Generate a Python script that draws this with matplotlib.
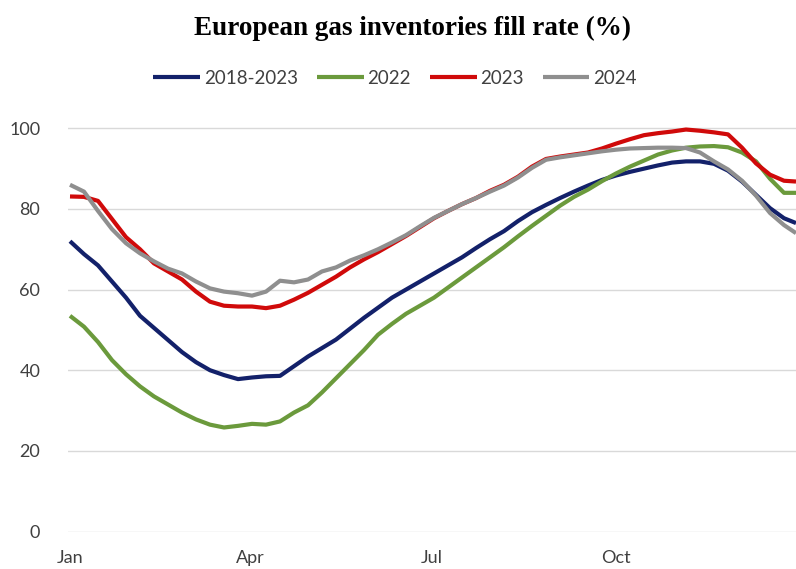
import matplotlib.pyplot as plt
import numpy as np

# Day of year for each weekly reading
days = [0, 7, 14, 21, 28, 35, 42, 49, 56, 63, 70, 77, 84, 91, 98, 105, 112,
        119, 126, 133, 140, 147, 154, 161, 168, 175, 182, 189, 196, 203, 210,
        217, 224, 231, 238, 245, 252, 259, 266, 273, 280, 287, 294, 301, 308,
        315, 322, 329, 336, 343, 350, 357, 363]

avg_2018_2023 = [72, 68.8, 66, 62, 58, 53.5, 50.5, 47.5, 44.5, 42, 40, 38.8, 37.8,
                 38.2, 38.5, 38.6, 41, 43.4, 45.5, 47.6, 50.3, 53, 55.5, 58, 60,
                 62, 64, 66, 68, 70.3, 72.5, 74.5, 77, 79.2, 81, 82.7, 84.3, 85.8,
                 87.2, 88.3, 89.2, 90, 90.8, 91.5, 91.8, 91.8, 91.2, 89.5, 86.8,
                 83.5, 80.2, 77.7, 76.5]

fill_2022 = [53.5, 50.8, 47, 42.5, 39, 36, 33.5, 31.5, 29.5, 27.8, 26.5, 25.8, 26.2,
             26.7, 26.5, 27.3, 29.5, 31.3, 34.5, 38, 41.5, 45, 48.8, 51.5, 54,
             56, 58, 60.5, 63, 65.5, 68, 70.5, 73.2, 75.8, 78.3, 80.8, 83, 84.8,
             86.9, 88.8, 90.5, 92, 93.5, 94.5, 95.2, 95.5, 95.6, 95.3, 94, 91.8,
             87.5, 84, 84]

fill_2023 = [83.1, 83, 82, 77.5, 73, 70, 66.5, 64.5, 62.5, 59.5, 57, 56, 55.8,
             55.8, 55.4, 56, 57.5, 59.2, 61.2, 63.2, 65.5, 67.5, 69.3, 71.3, 73.3,
             75.5, 77.7, 79.5, 81.2, 82.7, 84.5, 86, 88, 90.5, 92.4, 93, 93.5, 94,
             95, 96.2, 97.3, 98.3, 98.8, 99.2, 99.7, 99.4, 99, 98.5, 95.2, 91.3,
             88.5, 87, 86.8]

fill_2024 = [86, 84.3, 79.5, 75, 71.5, 69, 67, 65.2, 64, 62, 60.3, 59.5, 59.1,
             58.5, 59.5, 62.2, 61.8, 62.5, 64.5, 65.5, 67.2, 68.5, 70, 71.7, 73.5,
             75.7, 77.8, 79.5, 81.2, 82.7, 84.3, 85.8, 87.8, 90.2, 92.2, 92.8,
             93.3, 93.8, 94.3, 94.7, 95, 95.1, 95.2, 95.2, 95.1, 94, 91.8, 89.8,
             87, 83.3, 79, 76, 74]

month_ticks = [0, 90, 181, 273]
month_labels = ['Jan', 'Apr', 'Jul', 'Oct']

series = [('2018-2023', avg_2018_2023, '#13216a'),
          ('2022', fill_2022, '#6b9a3c'),
          ('2023', fill_2023, '#d00a0a'),
          ('2024', fill_2024, '#8f8f8f')]

plt.rcParams['font.family'] = ['Lato', 'DejaVu Sans']

fig = plt.figure(figsize=(7.96, 5.69), dpi=100)
ax = fig.add_axes([68 / 796, (569 - 531.5) / 569, 728 / 796, 0.744])

for name, vals, col in series:
    ax.plot(days, vals, color=col, lw=3, label=name, solid_capstyle='butt')

ax.set_xlim(-1, 363)
ax.set_ylim(0, 105)
ax.set_yticks([0, 20, 40, 60, 80, 100])
ax.set_xticks(month_ticks)
ax.set_xticklabels(month_labels)
ax.grid(axis='y', color='#d9d9d9', lw=1)
ax.set_axisbelow(True)
ax.tick_params(length=0, labelsize=13, colors='#404040')
ax.tick_params(axis='y', pad=20)
ax.tick_params(axis='x', pad=13)
for s in ax.spines.values():
    s.set_visible(False)

fig.text(413 / 796, 1 - 28 / 569, 'European gas inventories fill rate (%)',
         ha='center', va='center', fontsize=19.5, fontweight='bold',
         family='Liberation Serif')

fig.legend(loc='center', bbox_to_anchor=(395 / 796, 1 - 78 / 569), ncol=4,
           frameon=False, fontsize=13.5, handlelength=2.5, handletextpad=0.2,
           columnspacing=1.0, labelcolor='#404040')

fig.savefig('out.png', dpi=100)
